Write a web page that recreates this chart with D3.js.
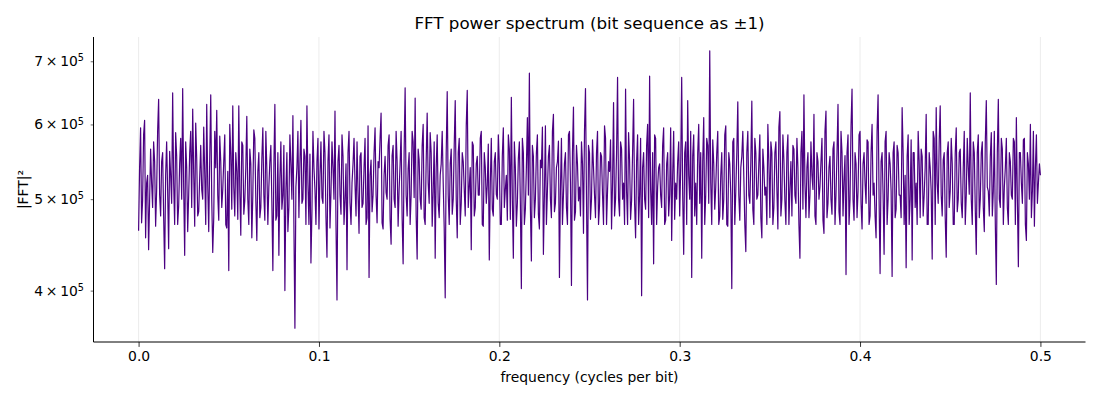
<!DOCTYPE html>
<html>
<head>
<meta charset="utf-8">
<script src="https://cdn.jsdelivr.net/npm/d3@7"></script>
<style>
  body { margin: 0; background: #fff; }
  text { font-family: "DejaVu Sans", sans-serif; fill: #000; }
</style>
</head>
<body>
<svg id="chart" width="1100" height="400"></svg>
<script>
// |FFT|^2 values in thousands (0 .. 0.5 cycles per bit)
// evenBins holds bins 0,2,4,...; oddBins holds bins 1,3,5,...
var evenBins = [
  463, 595, 498, 606, 520, 442, 565, 490, 548, 510,
  638, 480, 560, 422, 575, 443, 530, 648, 470, 555,
  492, 580, 655, 436, 540, 505, 590, 623, 468, 552,
  485, 570, 500, 533, 630, 462, 645, 439, 590, 621,
  475, 548, 512, 585, 466, 420, 560, 628, 480, 535,
  628, 458, 570, 498, 612, 470, 545, 505, 580, 452,
  560, 490, 595, 475, 538, 515, 570, 420, 630, 480,
  436, 575, 505, 400, 560, 490, 545, 613, 365, 540,
  478, 606, 500, 555, 628, 470, 428, 590, 512, 548,
  465, 575, 495, 560, 434, 585, 508, 540, 620, 391,
  570, 482, 555, 500, 421, 590, 470, 545, 518, 575,
  460, 560, 495, 580, 478, 413, 550, 505, 595, 472,
  540, 617, 465, 555, 500, 585, 448, 570, 490, 548,
  512, 590, 427, 656, 480, 560, 505, 575, 640, 432,
  550, 488, 600, 470, 617, 495, 560, 510, 433, 585,
  478, 545, 520, 393, 650, 470, 565, 500, 636, 455,
  580, 495, 548, 480, 652, 515, 442, 570, 490, 555,
  505, 590, 468, 540, 518, 431, 580, 480, 560, 500,
  545, 470, 595, 512, 475, 565, 641, 433, 540, 495,
  575, 402, 560, 488, 610, 680, 430, 555, 500, 585,
  465, 540, 437, 598, 510, 570, 478, 615, 495, 548,
  413, 580, 505, 560, 470, 590, 405, 626, 485, 545,
  515, 575, 460, 655, 391, 560, 500, 540, 478, 590,
  492, 555, 470, 580, 510, 535, 465, 633, 500, 673,
  480, 565, 520, 654, 470, 550, 498, 638, 455, 585,
  505, 395, 560, 488, 600, 675, 470, 427, 580, 515,
  545, 490, 595, 475, 560, 505, 452, 590, 520, 548,
  480, 673, 437, 575, 636, 500, 413, 585, 520, 560,
  495, 433, 610, 505, 570, 718, 470, 545, 515, 590,
  480, 560, 500, 598, 468, 545, 402, 580, 510, 634,
  475, 555, 528, 440, 590, 495, 635, 470, 560, 505,
  585, 455, 540, 515, 600, 478, 560, 490, 575, 465,
  619, 500, 550, 470, 585, 512, 480, 565, 495, 540,
  433, 590, 645, 478, 560, 505, 530, 615, 470, 548,
  515, 580, 460, 620, 495, 555, 482, 575, 505, 630,
  470, 560, 525, 416, 585, 500, 654, 475, 545, 510,
  590, 465, 560, 495, 575, 480, 600, 520, 455, 645,
  417, 560, 437, 590, 500, 545, 414, 575, 488, 560,
  505, 625, 470, 423, 585, 500, 431, 560, 520, 590,
  478, 555, 505, 615, 470, 540, 432, 580, 625, 495,
  628, 480, 560, 434, 575, 510, 545, 470, 595, 500,
  565, 478, 590, 505, 540, 648, 470, 560, 437, 585,
  500, 575, 462, 636, 510, 555, 480, 590, 406, 638,
  490, 565, 515, 580, 470, 548, 500, 575, 610, 424,
  560, 495, 580, 452, 545, 600, 510, 468, 585, 520,
  530
]
var oddBins = [
  540, 472, 585, 455, 530, 498, 520, 575, 468, 590,
  505, 548, 480, 530, 510, 562, 495, 520, 588, 470,
  545, 500, 515, 575, 462, 560, 490, 533, 602, 480,
  528, 512, 596, 470, 518, 552, 500, 478, 540, 505,
  583, 490, 548, 470, 535, 600, 488, 515, 560, 476,
  510, 575, 482, 540, 500, 565, 455, 592, 498, 535,
  478, 552, 505, 590, 470, 548, 496, 540, 475, 560,
  525, 488, 570, 510, 462, 585, 500, 470, 515, 590,
  545, 495, 565, 470, 520, 558, 485, 540, 470, 580,
  530, 502, 590, 478, 548, 466, 575, 500, 470, 548,
  505, 585, 470, 545, 560, 496, 520, 580, 480, 508,
  555, 490, 540, 470, 598, 530, 485, 560, 505, 548,
  580, 472, 530, 508, 570, 476, 556, 500, 590, 468,
  545, 478, 560, 505, 538, 470, 590, 502, 480, 565,
  500, 570, 478, 548, 520, 588, 468, 575, 540, 495,
  530, 590, 466, 560, 505, 545, 482, 570, 500, 560,
  470, 560, 512, 598, 490, 540, 575, 480, 545, 505,
  580, 470, 560, 495, 572, 520, 488, 548, 506, 585,
  470, 556, 490, 530, 585, 476, 500, 575, 468, 552,
  495, 580, 470, 540, 505, 490, 570, 478, 560, 482,
  550, 596, 505, 470, 555, 500, 590, 485, 540, 576,
  512, 470, 545, 490, 585, 520, 560, 475, 570, 498,
  480, 545, 590, 500, 570, 476, 578, 505, 560, 470,
  560, 505, 598, 470, 548, 578, 520, 480, 560, 500,
  575, 500, 470, 510, 588, 476, 560, 495, 548, 470,
  580, 540, 500, 570, 478, 512, 560, 585, 470, 540,
  505, 570, 470, 545, 480, 595, 530, 476, 500, 575,
  540, 505, 560, 470, 530, 590, 555, 480, 470, 600,
  560, 548, 470, 580, 495, 520, 578, 488, 560, 470,
  530, 476, 585, 470, 560, 505, 575, 470, 560, 505,
  540, 590, 470, 560, 505, 548, 488, 580, 500, 545,
  478, 565, 505, 470, 548, 575, 470, 560, 512, 596,
  480, 585, 498, 560, 470, 548, 570, 505, 580, 470,
  560, 488, 520, 540, 478, 575, 512, 480, 560, 500,
  548, 475, 590, 478, 540, 500, 565, 470, 560, 485,
  590, 480, 556, 560, 470, 598, 500, 560, 478, 585,
  495, 545, 520, 578, 470, 560, 505, 480, 590, 500,
  548, 505, 575, 470, 560, 510, 560, 478, 570, 505,
  478, 560, 530, 555, 470, 578, 560, 490, 470, 548,
  565, 480, 540, 470, 560, 510, 590, 470, 520, 575,
  505, 550, 478, 560, 490, 580, 470, 560, 485, 560,
  495, 540, 470, 580, 506, 500, 575, 488, 560, 478,
  560, 490, 575, 515, 480, 588, 510, 470, 560, 500,
  580, 470, 540, 490, 560, 505, 580, 470, 500, 560,
  520, 578, 470, 560, 500, 478, 590, 540, 495, 545
]
var xTicks = [0.0, 0.1, 0.2, 0.3, 0.4, 0.5]
var yTicks = [4, 5, 6, 7]   // x 10^5

var dimensions = {
    width: 1100,
    height: 400,
    margin: { top: 37, bottom: 58, right: 14.5, left: 93.5 }
}
dimensions.boundedWidth = dimensions.width - dimensions.margin.left - dimensions.margin.right
dimensions.boundedHeight = dimensions.height - dimensions.margin.top - dimensions.margin.bottom

// put the two halves back in bin order
var power = []
evenBins.forEach(function (v, i) {
    power.push(v)
    if (i < oddBins.length) power.push(oddBins[i])
})

// frequencies like rfftfreq: evenly spaced from 0 to 0.5
var dataset = power.map(function (p, i) {
    return { f: i * 0.5 / (power.length - 1), p: p * 1000 }
})

var svg = d3.select("#chart")
var g = svg.append("g")
        .attr("transform", "translate(" + dimensions.margin.left + "," + dimensions.margin.top + ")")

// x and y scales, 5% margins like matplotlib
var xScale = d3.scaleLinear()
        .domain([-0.025, 0.525])
        .range([0, dimensions.boundedWidth])

var lo = Math.log10(d3.min(dataset, d => d.p))
var hi = Math.log10(d3.max(dataset, d => d.p))
var pad = (hi - lo) * 0.05
var yScale = d3.scaleLog()
        .domain([Math.pow(10, lo - pad), Math.pow(10, hi + pad)])
        .range([dimensions.boundedHeight, 0])

// vertical grid
g.append("g")
        .selectAll("line")
        .data(xTicks)
        .enter()
        .append("line")
        .attr("x1", d => xScale(d))
        .attr("x2", d => xScale(d))
        .attr("y1", 0)
        .attr("y2", dimensions.boundedHeight)
        .attr("stroke", "#b0b0b0")
        .attr("stroke-opacity", 0.3)
        .attr("stroke-width", 0.8)

// the spectrum
g.append("path")
        .datum(dataset)
        .attr("fill", "none")
        .attr("stroke", "#4b0082")
        .attr("stroke-width", 1.2)
        .attr("stroke-linejoin", "round")
        .attr("d", d3.line()
            .x(d => xScale(d.f))
            .y(d => yScale(d.p)))

// x axis
var xAxis = g.append("g")
        .attr("transform", "translate(0," + dimensions.boundedHeight + ")")
        .call(d3.axisBottom(xScale).tickValues(xTicks).tickFormat(d3.format(".1f"))
            .tickSize(4.9).tickPadding(4.5))
xAxis.select(".domain").attr("stroke", "#000").attr("stroke-width", 1).attr("d", "M0,0H" + dimensions.boundedWidth)
xAxis.selectAll(".tick line").attr("stroke", "#000").attr("stroke-width", 0.8)
xAxis.selectAll("text").style("font-size", "13.9px").attr("fill", "#000")
        .style("font-family", "DejaVu Sans")

// y axis (log, labelled minor ticks)
var yAxis = g.append("g")
        .call(d3.axisLeft(yScale).tickValues(yTicks.map(d => d * 1e5)).tickFormat("")
            .tickSize(2.8).tickPadding(4.9))
yAxis.select(".domain").attr("stroke", "#000").attr("stroke-width", 1).attr("d", "M0," + dimensions.boundedHeight + "V0")
yAxis.selectAll(".tick line").attr("stroke", "#000").attr("stroke-width", 0.6)

var yLabels = yAxis.selectAll(".tick")
        .data(yTicks)
        .append("text")
        .attr("x", -9.5)
        .attr("dy", "0.32em")
        .attr("text-anchor", "end")
        .style("font-size", "13.9px")
        .style("font-family", "DejaVu Sans")
        .attr("fill", "#000")
yLabels.append("tspan").text(d => d + "\u2009\u00d7\u200910")
yLabels.append("tspan")
        .attr("dy", "-0.5em")
        .style("font-size", "9.7px")
        .text("5")

// graph labels
g.append("text")
        .attr("x", dimensions.boundedWidth / 2)
        .attr("y", -8.5)
        .attr("text-anchor", "middle")
        .style("font-size", "16.7px")
        .text("FFT power spectrum (bit sequence as \u00b11)")

g.append("text")
        .attr("x", dimensions.boundedWidth / 2)
        .attr("y", dimensions.boundedHeight + 40)
        .attr("text-anchor", "middle")
        .style("font-size", "13.9px")
        .text("frequency (cycles per bit)")

g.append("text")
        .attr("transform", "rotate(-90)")
        .attr("x", -(dimensions.boundedHeight / 2))
        .attr("y", -66)
        .attr("text-anchor", "middle")
        .style("font-size", "13.9px")
        .text("|FFT|\u00b2")
</script>
</body>
</html>
